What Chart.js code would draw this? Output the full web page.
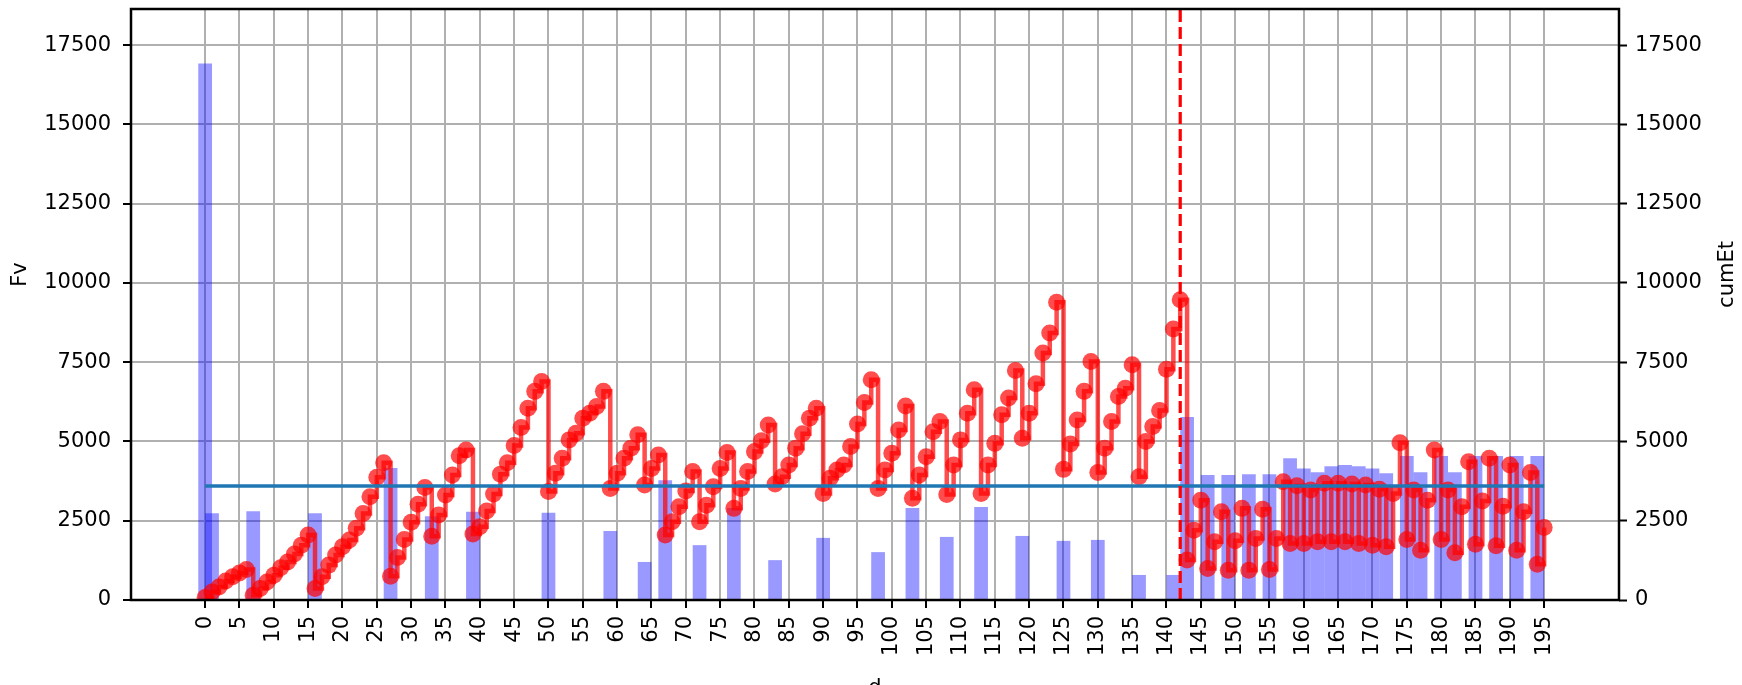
<!DOCTYPE html>
<html>
<head>
<meta charset="utf-8">
<script src="https://cdn.jsdelivr.net/npm/chart.js@4/dist/chart.umd.min.js"></script>
<style>
  html, body { margin: 0; padding: 0; background: #ffffff; }
  #wrap { width: 1742px; height: 685px; position: relative; }
</style>
</head>
<body>
<div id="wrap"><canvas id="c" width="1742" height="685"></canvas></div>
<script>
// ---- data ----
const barDays = [0, 1, 7, 16, 27, 33, 39, 50, 59, 64, 67, 72, 77, 83, 90, 98, 103, 108, 113, 119,
                 125, 130, 136, 141, 143, 146, 149, 152, 155, 158, 160, 162, 164, 166, 168, 170, 172,
                 175, 177, 180, 182, 185, 188, 191, 194];
const barFv = [16920, 2740, 2800, 2740, 4160, 2640, 2780, 2750, 2180, 1200, 3780, 1730, 2900, 1257, 1960, 1510, 2898, 1990, 2930, 2020,
               1865, 1895, 790, 790, 5775, 3943, 3943, 3970, 3970, 4470, 4150, 4030, 4215, 4258, 4220, 4150, 3995,
               4540, 4030, 4540, 4030, 4540, 4540, 4540, 4540];

// cumEt, one value per day starting at day 0
const cumEt = [
  80, 250, 410, 600, 730, 850, 960, 150, 360, 570,
  780, 1020, 1200, 1450, 1730, 2050, 360, 730, 1100, 1420,
  1680, 1890, 2260, 2730, 3260, 3870, 4330, 750, 1340, 1910,
  2450, 3020, 3550, 2010, 2680, 3310, 3940, 4550, 4730, 2080,
  2310, 2810, 3340, 3970, 4330, 4870, 5440, 6050, 6580, 6890,
  3420, 4000, 4470, 5050, 5260, 5730, 5890, 6100, 6580, 3520,
  4000, 4470, 4790, 5210, 3630, 4150, 4570, 2050, 2470, 2940,
  3440, 4050, 2470, 2990, 3570, 4150, 4650, 2890, 3520, 4050,
  4680, 5020, 5520, 3660, 3890, 4260, 4790, 5240, 5730, 6050,
  3360, 3840, 4100, 4260, 4840, 5550, 6230, 6950, 3520, 4100,
  4630, 5360, 6120, 3210, 3940, 4520, 5310, 5630, 3330, 4260,
  5050, 5890, 6630, 3360, 4260, 4940, 5840, 6370, 7240, 5100,
  5890, 6820, 7790, 8420, 9390, 4120, 4920, 5680, 6580, 7520,
  4020, 4790, 5630, 6420, 6680, 7420, 3890, 5000, 5470, 5980,
  7280, 8550, 9470, 1260, 2200, 3150, 990, 1840, 2780, 940,
  1870, 2890, 940, 1940, 2860, 960, 1940, 3730, 1780, 3600,
  1780, 3470, 1840, 3680, 1840, 3680, 1840, 3660, 1780, 3630,
  1730, 3490, 1680, 3360, 4960, 1910, 3470, 1570, 3150, 4730,
  1910, 3470, 1490, 2940, 4360, 1760, 3120, 4470, 1710, 2960,
  4260, 1570, 2780, 4020, 1130, 2290
];

const meanDays = [0, 195];
const meanValue = [3595, 3595];
const vlineDay = 142;

const xTicks = [0, 5, 10, 15, 20, 25, 30, 35, 40, 45, 50, 55, 60, 65, 70, 75, 80, 85, 90, 95,
                100, 105, 110, 115, 120, 125, 130, 135, 140, 145, 150, 155, 160, 165, 170, 175, 180, 185, 190, 195];
const yTicks = [0, 2500, 5000, 7500, 10000, 12500, 15000, 17500];
const xMin = -10.8, xMax = 205.9;
const yMin = 0, yMax = 18640;

// ---- styles ----
const FONT = '"DejaVu Sans", sans-serif';
const TICK_SIZE = 21;
const gridColor = '#b0b0b0';

const barPoints = barDays.map((d, i) => ({ x: d, y: barFv[i] }));
const cumPoints = cumEt.map((v, i) => ({ x: i, y: v }));
const meanPoints = meanDays.map((d, i) => ({ x: d, y: meanValue[i] }));
const vlinePoints = [{ x: vlineDay, y: yMin }, { x: vlineDay, y: yMax }];

const framePlugin = {
  id: 'frame',
  afterDatasetsDraw(chart) {
    const { ctx, chartArea: a } = chart;
    ctx.save();
    ctx.strokeStyle = '#000';
    ctx.lineWidth = 2.5;
    ctx.strokeRect(a.left, a.top, a.right - a.left, a.bottom - a.top);
    ctx.restore();
  },
  afterDraw(chart) {
    const { ctx, chartArea: a } = chart;
    ctx.save();
    ctx.fillStyle = '#000';
    ctx.font = TICK_SIZE + 'px ' + FONT;
    ctx.textAlign = 'center';
    ctx.textBaseline = 'middle';
    const cy = (a.top + a.bottom) / 2 - 30;
    ctx.save();
    ctx.translate(21, cy);
    ctx.rotate(-Math.PI / 2);
    ctx.fillText('Fv', 0, 0);
    ctx.restore();
    ctx.save();
    ctx.translate(chart.width - 14, cy);
    ctx.rotate(-Math.PI / 2);
    ctx.fillText('cumEt', 0, 0);
    ctx.restore();
    ctx.textBaseline = 'alphabetic';
    ctx.fillText('d', (a.left + a.right) / 2, chart.height + 9);
    ctx.restore();
  }
};

function noPad(s) { s.paddingTop = 0; s.paddingBottom = 0; s.paddingLeft = 0; s.paddingRight = 0; }

new Chart(document.getElementById('c'), {
  data: {
    datasets: [
      {
        type: 'bar',
        label: 'Fv',
        data: barPoints,
        backgroundColor: 'rgba(0,0,255,0.4)',
        borderWidth: 0,
        categoryPercentage: 1,
        barPercentage: 2,
        yAxisID: 'y',
        order: 4
      },
      {
        type: 'line',
        label: 'cumEt',
        data: cumPoints,
        borderColor: 'rgba(255,0,0,0.7)',
        backgroundColor: 'rgba(255,0,0,0.7)',
        borderWidth: 4.5,
        stepped: true,
        pointRadius: 8.5,
        pointBorderWidth: 0,
        pointBackgroundColor: 'rgba(255,0,0,0.7)',
        fill: false,
        clip: 0,
        yAxisID: 'y1',
        order: 3
      },
      {
        type: 'line',
        label: 'mean',
        data: meanPoints,
        borderColor: '#1f77b4',
        borderWidth: 3.4,
        pointRadius: 0,
        fill: false,
        yAxisID: 'y1',
        order: 2
      },
      {
        type: 'line',
        label: 'split',
        data: vlinePoints,
        borderColor: '#ff0000',
        borderWidth: 3.2,
        borderDash: [12, 5],
        pointRadius: 0,
        fill: false,
        yAxisID: 'y1',
        order: 1
      }
    ]
  },
  options: {
    responsive: false,
    devicePixelRatio: 1,
    animation: false,
    layout: { padding: { top: 9, left: 0, right: 0, bottom: 0 } },
    plugins: { legend: { display: false }, tooltip: { enabled: false } },
    scales: {
      x: {
        type: 'linear',
        min: xMin, max: xMax,
        offset: false,
        afterBuildTicks: (s) => { s.ticks = xTicks.map(v => ({ value: v })); },
        afterFit: (s) => { s.height = 85; noPad(s); },
        ticks: {
          minRotation: 90, maxRotation: 90, autoSkip: false,
          color: '#000', padding: 8,
          font: { family: FONT, size: TICK_SIZE },
          callback: (v) => String(v)
        },
        grid: { offset: false, color: gridColor, lineWidth: 2, drawTicks: true, tickLength: 8, tickColor: '#000', tickWidth: 2 },
        border: { display: false }
      },
      y: {
        type: 'linear', position: 'left',
        min: yMin, max: yMax,
        afterBuildTicks: (s) => { s.ticks = yTicks.map(v => ({ value: v })); },
        afterFit: (s) => { s.width = 131; noPad(s); },
        ticks: { color: '#000', padding: 12, font: { family: FONT, size: TICK_SIZE }, callback: (v) => String(v) },
        grid: { color: gridColor, lineWidth: 2, drawTicks: true, tickLength: 8, tickColor: '#000', tickWidth: 2 },
        border: { display: false }
      },
      y1: {
        type: 'linear', position: 'right',
        min: yMin, max: yMax,
        afterBuildTicks: (s) => { s.ticks = yTicks.map(v => ({ value: v })); },
        afterFit: (s) => { s.width = 123; noPad(s); },
        ticks: { color: '#000', padding: 8, font: { family: FONT, size: TICK_SIZE }, callback: (v) => String(v) },
        grid: { drawOnChartArea: false, drawTicks: true, tickLength: 8, tickColor: '#000', tickWidth: 2 },
        border: { display: false }
      }
    }
  },
  plugins: [framePlugin]
});
</script>
</body>
</html>
